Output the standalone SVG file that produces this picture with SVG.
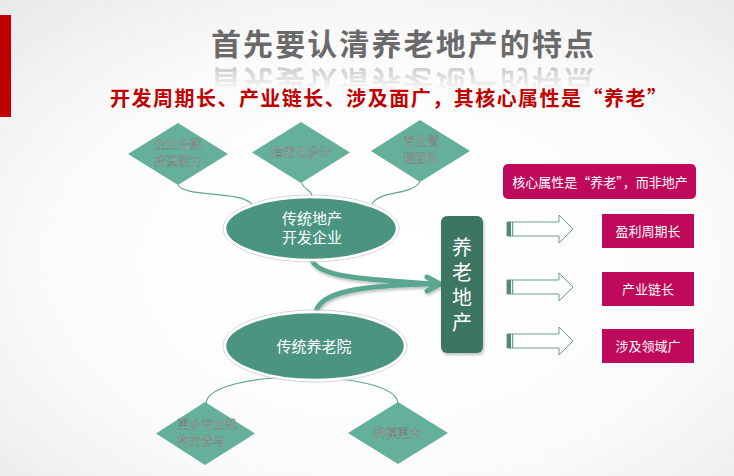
<svg xmlns="http://www.w3.org/2000/svg" xmlns:xlink="http://www.w3.org/1999/xlink" width="734" height="476" viewBox="0 0 734 476">
<defs>
<radialGradient id="bg" cx="0.52" cy="0.55" r="0.75">
<stop offset="0" stop-color="#ffffff"/>
<stop offset="0.6" stop-color="#fbfbfb"/>
<stop offset="1" stop-color="#e9e9e9"/>
</radialGradient>
<linearGradient id="reflFade" x1="0" y1="66" x2="0" y2="90" gradientUnits="userSpaceOnUse">
<stop offset="0" stop-color="#fff" stop-opacity="0.35"/>
<stop offset="1" stop-color="#fff" stop-opacity="0"/>
</linearGradient>
<mask id="reflMask" maskUnits="userSpaceOnUse" x="0" y="60" width="734" height="40">
<rect x="0" y="60" width="734" height="40" fill="url(#reflFade)"/>
</mask>
<filter id="shadow" x="-20%" y="-20%" width="140%" height="150%">
<feDropShadow dx="1" dy="2" stdDeviation="1.5" flood-color="#000" flood-opacity="0.25"/>
</filter>
<style>
.cjk{font-family:"Noto Sans CJK SC","Noto Sans",sans-serif;}
.diamond{fill:#64b09b;}
.dtext{font-family:"Noto Sans CJK SC","Noto Sans",sans-serif;font-size:12px;fill:#adb5b0;stroke:#65736c;stroke-width:0.3;}
.ell{fill:#4b9480;stroke:#ffffff;stroke-width:2.5;}
.ellout{fill:none;stroke:#c9c9c9;stroke-width:0.8;}
.etext{font-family:"Noto Sans CJK SC","Noto Sans",sans-serif;font-size:15px;fill:#ffffff;text-anchor:middle;}
.mag{fill:#bf0a5c;}
.mtext{font-family:"Noto Sans CJK SC","Noto Sans",sans-serif;font-size:13px;fill:#ffffff;text-anchor:middle;}
.thin{fill:none;stroke:#66a692;stroke-width:1.2;}
.merge{fill:none;stroke:#5aa690;stroke-width:5;stroke-linecap:round;}
.hollow{fill:#ffffff;stroke:#6e9f8d;stroke-width:1;}
.stripe{fill:#4f8a74;}
</style>
</defs>
<rect x="0" y="0" width="734" height="476" fill="url(#bg)"/>
<rect x="0" y="15" width="11" height="102" fill="#c00000"/>

<g id="title">
<text id="titleText" x="211" y="55" class="cjk" font-size="30" font-weight="bold" fill="#6a6a6a" textLength="383" lengthAdjust="spacing">首先要认清养老地产的特点</text>
<g mask="url(#reflMask)">
<use xlink:href="#titleText" href="#titleText" transform="translate(0,126) scale(1,-1)"/>
</g>
<text x="110" y="106" class="cjk" font-size="20" font-weight="bold" fill="#c00000" textLength="557" lengthAdjust="spacing">开发周期长、产业链长、涉及面广，其核心属性是“养老”</text>
</g>

<g id="connectors">
<path class="thin" d="M178,185 C186,198 238,190 252,204"/>
<path class="thin" d="M302,183 C303,190 313,190 312,197"/>
<path class="thin" d="M420,182 C410,196 380,190 372,204"/>
<path class="thin" d="M206,404 C206,368 398,368 398,404"/>
<g filter="url(#shadow)">
<path class="merge" d="M312,260 C318,277 362,279 434,284"/>
<path class="merge" d="M316,313 C318,292 362,285 434,284"/>
<polyline class="merge" stroke-width="4" stroke-linejoin="round" points="427,277 440,284 427,291"/>
</g>
<g id="arrow1">
<path class="hollow" d="M507,222 H559 V215 L573,229 L559,243 V236 H507 Z"/>
<rect class="stripe" x="507" y="222" width="4" height="14"/>
<rect class="stripe" x="512.2" y="222" width="1" height="14"/>
</g>
<g id="arrow2">
<path class="hollow" d="M507,280 H559 V273 L573,287 L559,301 V294 H507 Z"/>
<rect class="stripe" x="507" y="280" width="4" height="14"/>
<rect class="stripe" x="512.2" y="280" width="1" height="14"/>
</g>
<g id="arrow3">
<path class="hollow" d="M507,334 H559 V327 L573,341 L559,355 V348 H507 Z"/>
<rect class="stripe" x="507" y="334" width="4" height="14"/>
<rect class="stripe" x="512.2" y="334" width="1" height="14"/>
</g>
</g>

<g id="d1">
<polygon class="diamond" points="178,123 228,154 178,185 128,154"/>
<text class="dtext" x="178" y="149" text-anchor="middle">企业长期</text>
<text class="dtext" x="178" y="166" text-anchor="middle">投资能力</text>
</g>
<g id="d2">
<polygon class="diamond" points="301,122 350,152.5 301,183 252,152.5"/>
<text class="dtext" x="301" y="157" text-anchor="middle">适老化设计</text>
</g>
<g id="d3">
<polygon class="diamond" points="420,120 470,151 420,182 371,151"/>
<text class="dtext" x="421" y="146" text-anchor="middle">专业管</text>
<text class="dtext" x="421" y="163" text-anchor="middle">理团队</text>
</g>

<g id="e1">
<ellipse class="ellout" cx="311" cy="228.5" rx="88" ry="33.5"/>
<ellipse class="ell" cx="311" cy="228.5" rx="86" ry="31.5"/>
<text class="etext" x="312" y="224">传统地产</text>
<text class="etext" x="312" y="243">开发企业</text>
</g>
<g id="e2">
<ellipse class="ellout" cx="315" cy="346" rx="92" ry="36"/>
<ellipse class="ell" cx="315" cy="346" rx="90" ry="34"/>
<text class="etext" x="314" y="352">传统养老院</text>
</g>

<g id="d4">
<polygon class="diamond" points="205,402 255,433.5 205,465 156,433.5"/>
<text class="dtext" x="177" y="429">更多专业机</text>
<text class="dtext" x="177" y="446">构的参与</text>
</g>
<g id="d5">
<polygon class="diamond" points="398,402 448,433 398,464 348,433"/>
<text class="dtext" x="397" y="438" text-anchor="middle">规模更大</text>
</g>

<g id="core">
<rect x="441" y="216" width="42" height="137" rx="6" fill="#3c7463" filter="url(#shadow)"/>
<text class="cjk" x="462" y="237" font-size="20" fill="#ffffff" style="writing-mode:vertical-rl;letter-spacing:5px">养老地产</text>
</g>

<g id="header">
<rect class="mag" x="503" y="164" width="193" height="35" rx="5"/>
<text class="mtext" x="600" y="187">核心属性是“养老”，而非地产</text>
</g>
<g id="b1">
<rect class="mag" x="602" y="214" width="92" height="34"/>
<text class="mtext" x="648" y="236">盈利周期长</text>
</g>
<g id="b2">
<rect class="mag" x="602" y="272" width="92" height="34"/>
<text class="mtext" x="648" y="294">产业链长</text>
</g>
<g id="b3">
<rect class="mag" x="602" y="329" width="92" height="34"/>
<text class="mtext" x="648" y="351">涉及领域广</text>
</g>
</svg>
